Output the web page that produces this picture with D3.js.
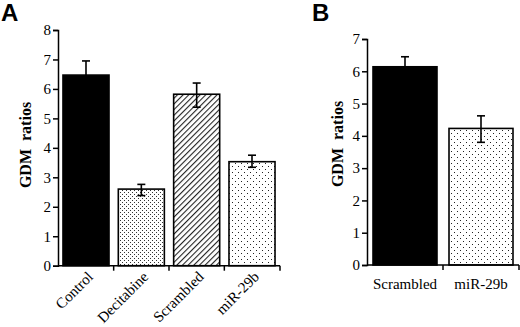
<!DOCTYPE html>
<html>
<head>
<meta charset="utf-8">
<script src="https://cdn.jsdelivr.net/npm/d3@7"></script>
<style>
  body { margin: 0; background: #fff; }
  svg { display: block; }
</style>
</head>
<body>
<svg width="520" height="327"></svg>
<script>
// panel A
const catsA = ["Control", "Decitabine", "Scrambled", "miR-29b"];
const valsA = [6.47, 2.6, 5.82, 3.53];
const errUpA = [6.95, 2.76, 6.2, 3.75];
const errLoA = [6.0, 2.38, 5.38, 3.34];
const fillsA = ["black", "dense", "hatch", "sparse"];
const ticksA = [0, 1, 2, 3, 4, 5, 6, 7, 8];

// panel B
const catsB = ["Scrambled", "miR-29b"];
const valsB = [6.14, 4.23];
const errUpB = [6.45, 4.62];
const errLoB = [5.8, 3.8];
const fillsB = ["black", "sparse"];
const ticksB = [0, 1, 2, 3, 4, 5, 6, 7];

const serif = "'Liberation Serif', 'Times New Roman', serif";
const sans = "'Liberation Sans', Arial, sans-serif";
const svg = d3.select("svg");
const defs = svg.append("defs");

// fill patterns
const dense = defs.append("pattern").attr("id", "dense")
  .attr("patternUnits", "userSpaceOnUse").attr("width", 4).attr("height", 4);
dense.append("rect").attr("width", 4).attr("height", 4).attr("fill", "#fff");
dense.append("rect").attr("x", 0).attr("y", 0).attr("width", 1).attr("height", 1).attr("fill", "#333");
dense.append("rect").attr("x", 2).attr("y", 2).attr("width", 1).attr("height", 1).attr("fill", "#333");

const sparse = defs.append("pattern").attr("id", "sparse")
  .attr("patternUnits", "userSpaceOnUse").attr("width", 6).attr("height", 6);
sparse.append("rect").attr("width", 6).attr("height", 6).attr("fill", "#fff");
sparse.append("rect").attr("x", 1).attr("y", 1).attr("width", 1).attr("height", 1).attr("fill", "#222");
sparse.append("rect").attr("x", 4).attr("y", 4).attr("width", 1).attr("height", 1).attr("fill", "#222");

const hatch = defs.append("pattern").attr("id", "hatch")
  .attr("patternUnits", "userSpaceOnUse").attr("width", 4).attr("height", 4)
  .attr("patternTransform", "rotate(45)");
hatch.append("rect").attr("width", 4).attr("height", 4).attr("fill", "#fff");
hatch.append("line").attr("x1", 0).attr("y1", 0).attr("x2", 0).attr("y2", 4)
  .attr("stroke", "#222").attr("stroke-width", 2.2);

const fillOf = (f) => (f === "black" ? "#000" : `url(#${f})`);

function drawPanel(opt) {
  const g = svg.append("g");
  const x = d3.scaleBand().domain(opt.cats).range(opt.xRange)
    .paddingInner(opt.pi).paddingOuter(opt.po);
  const y = d3.scaleLinear().domain([0, opt.yMax]).range(opt.yRange);

  // bars
  g.selectAll("rect.bar").data(opt.vals).enter().append("rect")
    .attr("x", (d, i) => x(opt.cats[i]))
    .attr("y", (d) => y(d))
    .attr("width", x.bandwidth())
    .attr("height", (d) => y(0) - y(d))
    .attr("fill", (d, i) => fillOf(opt.fills[i]))
    .attr("stroke", "#000")
    .attr("stroke-width", 1.6);

  // error bars
  const cx = (i) => x(opt.cats[i]) + x.bandwidth() / 2;
  opt.vals.forEach((v, i) => {
    g.append("line").attr("x1", cx(i)).attr("x2", cx(i))
      .attr("y1", y(opt.up[i])).attr("y2", y(opt.lo[i]))
      .attr("stroke", "#000").attr("stroke-width", 1.6);
    [opt.up[i], opt.lo[i]].forEach((e) => {
      g.append("line").attr("x1", cx(i) - 4).attr("x2", cx(i) + 4)
        .attr("y1", y(e)).attr("y2", y(e))
        .attr("stroke", "#000").attr("stroke-width", 1.6);
    });
  });

  // y axis
  const yAxis = d3.axisLeft(y).tickValues(opt.ticks).tickFormat(d3.format("d"))
    .tickSize(5).tickPadding(2);
  const ya = g.append("g").attr("transform", `translate(${opt.xRange[0]},0)`).call(yAxis);
  ya.attr("font-family", null).attr("font-size", null);
  ya.selectAll(".tick text").style("font-family", serif).style("font-size", "15px");
  ya.select("path.domain").attr("stroke-width", 1.5);
  ya.selectAll(".tick line").attr("stroke-width", 1.5);

  // x axis: baseline with ticks between bars
  g.append("line").attr("x1", opt.xRange[0]).attr("x2", opt.xRange[1])
    .attr("y1", y(0)).attr("y2", y(0)).attr("stroke", "#000").attr("stroke-width", 1.5);
  const step = x.step();
  const bounds = opt.cats.slice(1).map((c) => x(c) - (step - x.bandwidth()) / 2)
    .concat([opt.xRange[1]]);
  g.selectAll("line.xt").data(bounds).enter().append("line")
    .attr("x1", (d) => d).attr("x2", (d) => d)
    .attr("y1", y(0)).attr("y2", y(0) + 5)
    .attr("stroke", "#000").attr("stroke-width", 1.5);

  // category labels
  if (opt.rotate) {
    g.selectAll("text.cat").data(opt.cats).enter().append("text")
      .attr("transform", (d) => `translate(${x(d) + x.bandwidth() / 2 + 8},${y(0) + 12}) rotate(-45)`)
      .attr("text-anchor", "end")
      .style("font-family", serif)
      .style("font-size", "15px")
      .text((d) => d);
  } else {
    g.selectAll("text.cat").data(opt.cats).enter().append("text")
      .attr("x", (d) => x(d) + x.bandwidth() / 2)
      .attr("y", y(0) + 24)
      .attr("text-anchor", "middle")
      .style("font-family", serif)
      .style("font-size", "15px")
      .text((d) => d);
  }

  // y label
  g.append("text")
    .attr("transform", `translate(${opt.labelX},${opt.labelY}) rotate(-90)`)
    .attr("text-anchor", "middle")
    .style("font-family", serif)
    .style("font-size", "16px")
    .style("font-weight", "bold")
    .style("white-space", "pre")
    .text("GDM  ratios");

  // panel letter
  svg.append("text").attr("x", opt.letterX).attr("y", opt.letterY)
    .style("font-family", sans)
    .style("font-weight", "bold").style("font-size", "24px")
    .text(opt.letter);
}

drawPanel({
  cats: catsA, vals: valsA, up: errUpA, lo: errLoA, fills: fillsA, ticks: ticksA,
  yMax: 8, xRange: [58, 280], yRange: [265.7, 30], pi: 0.168, po: 0.09,
  rotate: true, labelX: 31, labelY: 145, letter: "A", letterX: 1, letterY: 21
});

drawPanel({
  cats: catsB, vals: valsB, up: errUpB, lo: errLoB, fills: fillsB, ticks: ticksB,
  yMax: 7, xRange: [367, 519], yRange: [265, 39], pi: 0.158, po: 0.079,
  rotate: false, labelX: 343, labelY: 144, letter: "B", letterX: 312, letterY: 21
});
</script>
</body>
</html>
